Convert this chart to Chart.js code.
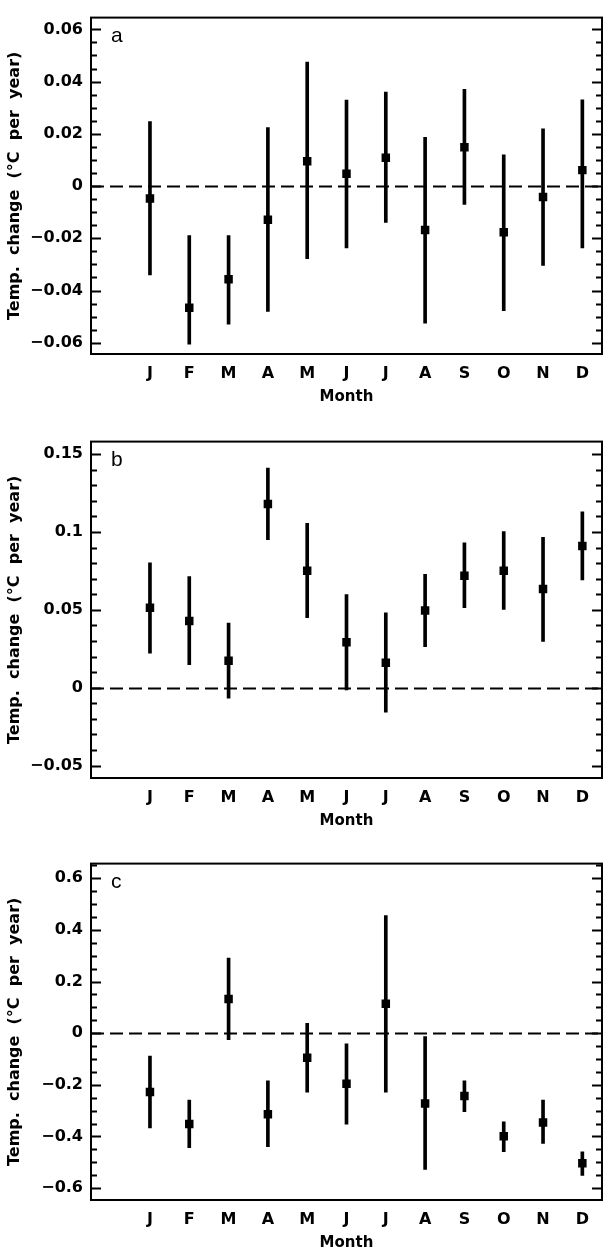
<!DOCTYPE html>
<html>
<head>
<meta charset="utf-8">
<script src="https://cdn.jsdelivr.net/npm/chart.js@4.4.1/dist/chart.umd.min.js"></script>
<style>
  html, body { margin: 0; padding: 0; background: #fff; }
  .panel { position: absolute; left: 0; width: 608px; height: 406px; }
</style>
</head>
<body>
<div class="panel" style="top:0"><canvas id="chart-a" width="608" height="406"></canvas></div>
<div class="panel" style="top:424px"><canvas id="chart-b" width="608" height="406"></canvas></div>
<div class="panel" style="top:846px"><canvas id="chart-c" width="608" height="406"></canvas></div>
<script>
// months along the x axis (positions 1..12)
const months   = ['J', 'F', 'M', 'A', 'M', 'J', 'J', 'A', 'S', 'O', 'N', 'D'];
const monthPos = [1, 2, 3, 4, 5, 6, 7, 8, 9, 10, 11, 12];

// panel a
const aTrend = [-0.0048, -0.0466, -0.0357, -0.0129, 0.0095, 0.0047, 0.0108, -0.0168, 0.0149, -0.0177, -0.0042, 0.0061];
const aHigh  = [0.0247, -0.0190, -0.0190, 0.0224, 0.0475, 0.0329, 0.0360, 0.0187, 0.0370, 0.0120, 0.0219, 0.0330];
const aLow   = [-0.0340, -0.0605, -0.0529, -0.0480, -0.0278, -0.0237, -0.0139, -0.0525, -0.0070, -0.0477, -0.0304, -0.0237];
const aTicks = [-0.06, -0.04, -0.02, 0, 0.02, 0.04, 0.06];
const aTickLabels = ['\u22120.06', '\u22120.04', '\u22120.02', '0', '0.02', '0.04', '0.06'];

// panel b
const bTrend = [0.0513, 0.0428, 0.0173, 0.1180, 0.0751, 0.0291, 0.0160, 0.0496, 0.0719, 0.0751, 0.0633, 0.0909];
const bHigh  = [0.0802, 0.0713, 0.0414, 0.1410, 0.1055, 0.0597, 0.0481, 0.0728, 0.0930, 0.1002, 0.0966, 0.1129];
const bLow   = [0.0222, 0.0148, -0.0068, 0.0950, 0.0449, -0.0015, -0.0158, 0.0264, 0.0513, 0.0502, 0.0297, 0.0692];
const bTicks = [-0.05, 0, 0.05, 0.1, 0.15];
const bTickLabels = ['\u22120.05', '0', '0.05', '0.1', '0.15'];

// panel c
const cTrend = [-0.228, -0.352, 0.133, -0.314, -0.095, -0.196, 0.114, -0.272, -0.243, -0.399, -0.346, -0.504];
const cHigh  = [-0.089, -0.259, 0.291, -0.184, 0.038, -0.041, 0.456, -0.013, -0.184, -0.343, -0.259, -0.459];
const cLow   = [-0.367, -0.443, -0.025, -0.439, -0.228, -0.352, -0.228, -0.528, -0.304, -0.459, -0.427, -0.551];
const cTicks = [-0.6, -0.4, -0.2, 0, 0.2, 0.4, 0.6];
const cTickLabels = ['\u22120.6', '\u22120.4', '\u22120.2', '0', '0.2', '0.4', '0.6'];

Chart.defaults.color = '#000';
Chart.defaults.font.family = "'DejaVu Sans', sans-serif";

// frame, inward ticks on both sides, dashed zero line, panel letter
const framePlugin = {
  id: 'frame',
  beforeDatasetsDraw(chart, args, opts) {
    const { ctx, chartArea: ca, scales: { y } } = chart;
    const y0 = Math.round(y.getPixelForValue(0)) + 0.5;
    ctx.save();
    ctx.strokeStyle = '#000';
    ctx.lineWidth = 2;
    ctx.setLineDash([13, 6]);
    ctx.beginPath();
    ctx.moveTo(ca.left, y0);
    ctx.lineTo(ca.right, y0);
    ctx.stroke();
    ctx.restore();
  },
  afterDraw(chart, args, opts) {
    const { ctx, chartArea: ca, scales: { y } } = chart;
    ctx.save();
    ctx.strokeStyle = '#000';
    ctx.lineWidth = 2;
    ctx.strokeRect(ca.left, ca.top, ca.right - ca.left, ca.bottom - ca.top);

    const step = opts.minor;
    const n0 = Math.ceil(y.min / step - 1e-6), n1 = Math.floor(y.max / step + 1e-6);
    ctx.lineWidth = 1.8;
    ctx.beginPath();
    for (let n = n0; n <= n1; n++) {
      const v = n * step;
      const major = opts.ticks.some(t => Math.abs(t - v) < step / 10);
      const len = major ? 10 : 6;
      const py = Math.round(y.getPixelForValue(v)) + 0.5;
      ctx.moveTo(ca.left, py);  ctx.lineTo(ca.left + len, py);
      ctx.moveTo(ca.right, py); ctx.lineTo(ca.right - len, py);
    }
    ctx.stroke();

    ctx.fillStyle = '#000';
    ctx.font = "21px 'Liberation Sans', Arial, sans-serif";
    ctx.textBaseline = 'alphabetic';
    ctx.textAlign = 'left';
    ctx.fillText(opts.letter, ca.left + 20, ca.top + 24);
    ctx.restore();
  }
};

function makePanel(id, letter, trend, low, high, yMin, yMax, ticks, tickLabels, minor) {
  new Chart(document.getElementById(id), {
    type: 'bar',
    data: {
      datasets: [
        {
          type: 'scatter',
          data: monthPos.map((x, i) => ({ x, y: trend[i] })),
          pointStyle: 'rect',
          pointRadius: 6,
          pointBorderWidth: 0,
          backgroundColor: '#000',
          borderColor: '#000',
          order: 0
        },
        {
          type: 'bar',
          data: monthPos.map((x, i) => ({ x, y: [low[i], high[i]] })),
          backgroundColor: '#000',
          borderWidth: 0,
          barThickness: 3,
          order: 1
        }
      ]
    },
    options: {
      responsive: false,
      animation: false,
      devicePixelRatio: 1,
      layout: { padding: { top: 12, right: 2, bottom: 0, left: 0 } },
      plugins: {
        legend: { display: false },
        tooltip: { enabled: false },
        frame: { letter, ticks, minor }
      },
      scales: {
        x: {
          type: 'linear',
          min: -0.5,
          max: 12.5,
          offset: false,
          afterBuildTicks: ax => { ax.ticks = monthPos.map(v => ({ value: v })); },
          afterFit: ax => { ax.height = 52; },
          grid: { display: false, drawTicks: false },
          border: { display: false },
          ticks: {
            padding: 10,
            maxRotation: 0,
            autoSkip: false,
            font: { size: 16, weight: 'bold' },
            callback: v => months[monthPos.indexOf(v)]
          },
          title: {
            display: true,
            text: 'Month',
            font: { size: 15, weight: 'bold', lineHeight: 1 },
            padding: { top: 0, bottom: 1 }
          }
        },
        y: {
          min: yMin,
          max: yMax,
          afterBuildTicks: ax => { ax.ticks = ticks.map(v => ({ value: v })); },
          afterFit: ax => { ax.width = 91; },
          grid: { display: false, drawTicks: false },
          border: { display: false },
          ticks: {
            padding: 8,
            font: { size: 16, weight: 'bold' },
            callback: v => tickLabels[ticks.indexOf(v)]
          },
          title: {
            display: true,
            text: 'Temp.  change  (\u00B0C  per  year)',
            font: { size: 16, weight: 'bold' },
            padding: { top: 5, bottom: 0 }
          }
        }
      }
    },
    plugins: [framePlugin]
  });
}

makePanel('chart-a', 'a', aTrend, aLow, aHigh, -0.0643, 0.0645, aTicks, aTickLabels, 0.005);
makePanel('chart-b', 'b', bTrend, bLow, bHigh, -0.058, 0.158, bTicks, bTickLabels, 0.01);
makePanel('chart-c', 'c', cTrend, cLow, cHigh, -0.646, 0.657, cTicks, cTickLabels, 0.05);
</script>
</body>
</html>
